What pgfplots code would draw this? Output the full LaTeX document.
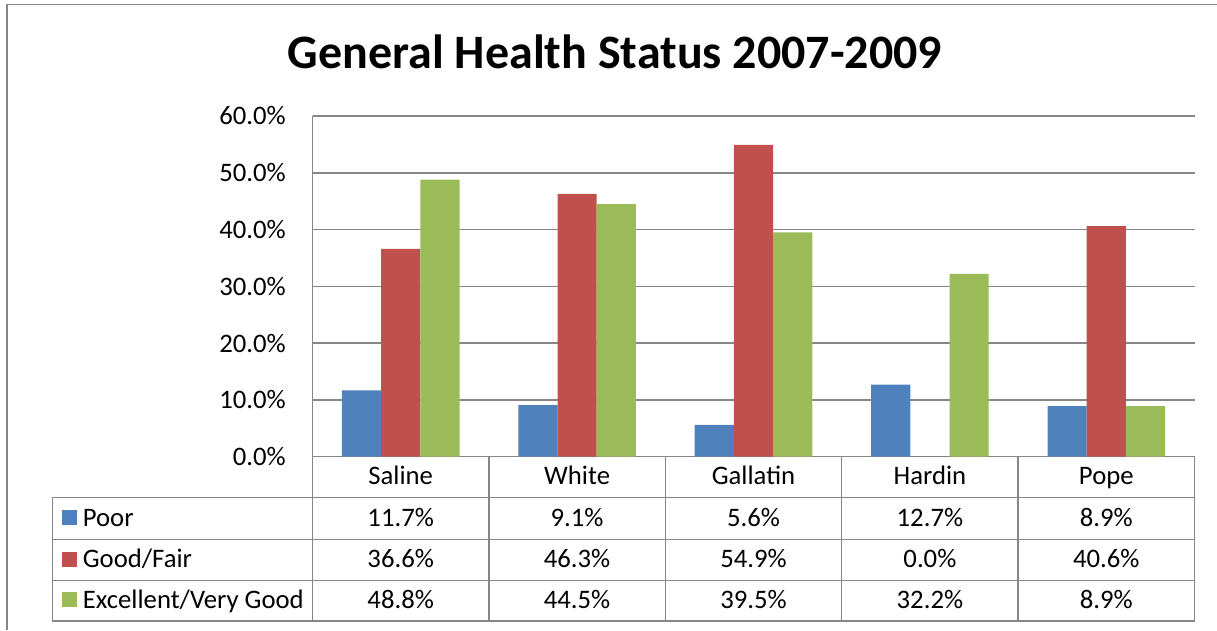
\documentclass[border=0pt]{standalone}
\usepackage{pgfplots}
\usepackage{pgfplotstable}
\pgfplotsset{compat=1.18}
\usepackage{fontspec}
\setmainfont{Carlito}
\definecolor{cblue}{HTML}{4F81BD}
\definecolor{cred}{HTML}{C0504D}
\definecolor{cgreen}{HTML}{9BBB59}
\definecolor{gridc}{RGB}{134,134,134}
\pgfplotstableread{
x name poor good excel
0 Saline 11.7 36.6 48.8
1 White 9.1 46.3 44.5
2 Gallatin 5.6 54.9 39.5
3 Hardin 12.7 0.0 32.2
4 Pope 8.9 40.6 8.9
}\data
\begin{document}
\fontsize{26.7}{31}\selectfont
\begin{tikzpicture}[x=1pt,y=1pt,font=\fontsize{26.7}{31}\selectfont]
\useasboundingbox (0,0) rectangle (1217,630);
\draw[gridc, line width=1.5pt] (7,0) -- (7,625.5) -- (1217,625.5);
\node[font=\fontsize{48}{52}\selectfont\bfseries, anchor=base, inner sep=0pt] at (615,561) {General Health Status 2007-2009};
\begin{axis}[at={(312.5pt,173.3pt)}, anchor=south west, scale only axis,
  width=882pt, height=340.7pt,
  ybar=0pt, bar width=39.2pt,
  xmin=-0.5, xmax=4.5, ymin=0, ymax=60,
  axis x line=bottom, axis y line=left,
  axis line style={gridc, line width=1.5pt, -},
  ytick={0,10,...,60}, ymajorgrids, grid style={gridc, line width=1.5pt},
  major tick length=0pt,
  xtick={0,1,2,3,4}, xticklabels={Saline,White,Gallatin,Hardin,Pope},
  xticklabel style={anchor=base, inner sep=0pt, yshift=-27.6pt},
  yticklabel={\pgfmathprintnumber[fixed,fixed zerofill,precision=1]{\tick}\%},
  yticklabel style={anchor=east, inner sep=0pt, xshift=-26.5pt},
  /pgf/number format/assume math mode=true,
  clip=false,
]
\addplot[fill=cblue, draw=none] table[x=x, y=poor] {\data};
\addplot[fill=cred, draw=none] table[x=x, y=good] {\data};
\addplot[fill=cgreen, draw=none] table[x=x, y=excel] {\data};
\end{axis}
% data table grid
\begin{scope}[gridc, line width=1.5pt]
\draw (52.3,132.5) -- (1194.5,132.5);
\draw (52.3,90.7) -- (1194.5,90.7);
\draw (52.3,49.3) -- (1194.5,49.3);
\draw (52.3,9) -- (1194.5,9);
\draw (52.3,132.5) -- (52.3,9);
\foreach \xx in {312.5,488.9,665.3,841.7,1018.1,1194.5}
  \draw (\xx,173.3) -- (\xx,9);
\end{scope}
% legend keys and row labels
\fill[cblue] (62,105) rectangle (77,120);
\fill[cred] (62,63.3) rectangle (77,78.3);
\fill[cgreen] (62,22.7) rectangle (77,37.7);
\node[anchor=base west, inner sep=0pt] at (82.7,104) {Poor};
\node[anchor=base west, inner sep=0pt] at (82.7,62.3) {Good/Fair};
\node[anchor=base west, inner sep=0pt] at (82.7,21.7) {Excellent/Very Good};
% values
\foreach \xx/\a/\b/\c in {400.7/11.7/36.6/48.8, 577.1/9.1/46.3/44.5, 753.5/5.6/54.9/39.5, 929.9/12.7/0.0/32.2, 1106.3/8.9/40.6/8.9}{
  \node[anchor=base, inner sep=0pt] at (\xx,104) {\a\%};
  \node[anchor=base, inner sep=0pt] at (\xx,62.3) {\b\%};
  \node[anchor=base, inner sep=0pt] at (\xx,21.7) {\c\%};
}
\end{tikzpicture}
\end{document}
